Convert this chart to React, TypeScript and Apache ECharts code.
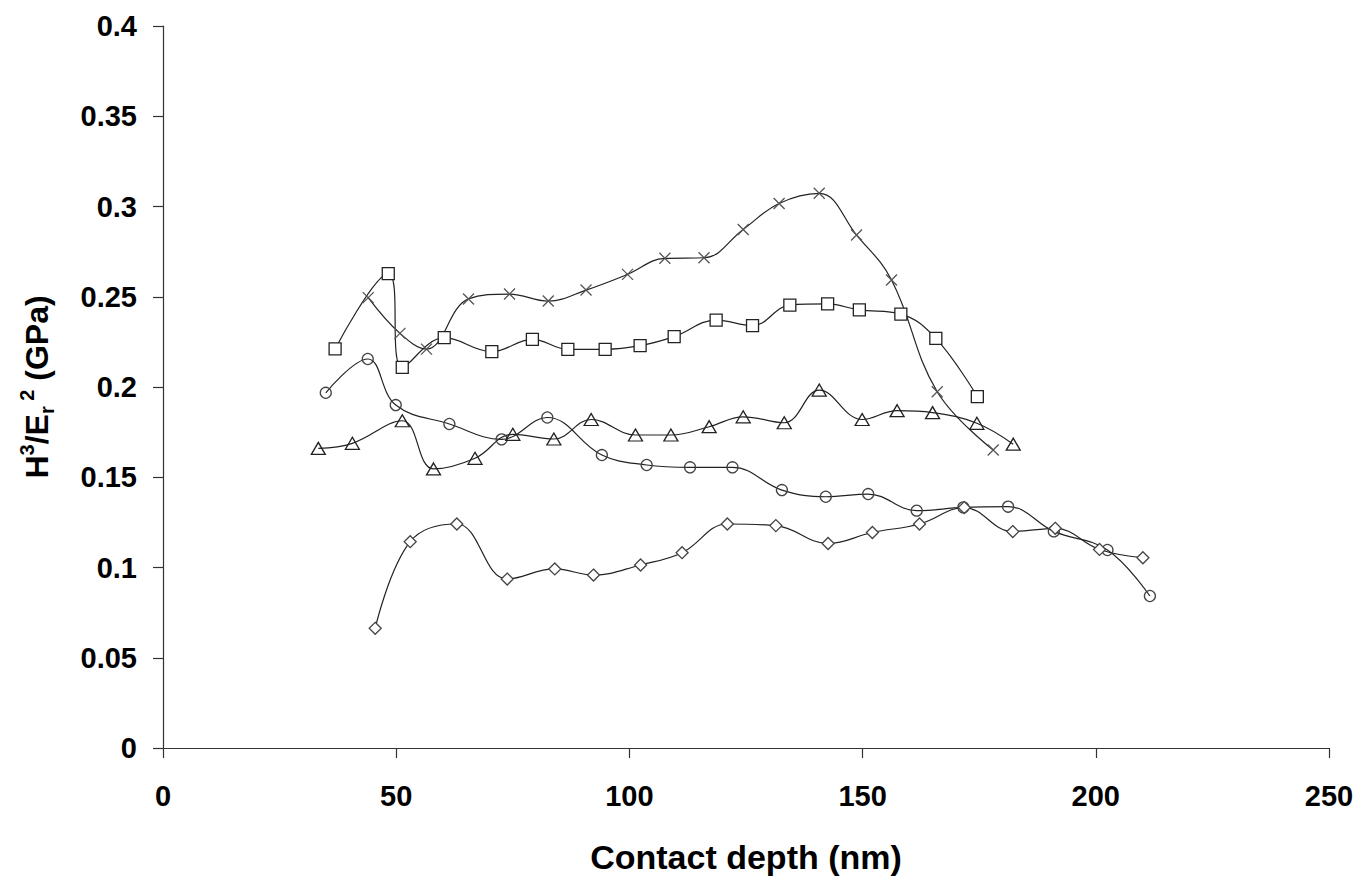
import React, { useEffect, useRef } from "react";
import * as echarts from "echarts";

const xTicks = { min: 0, max: 250, interval: 50 };
const yTicks = { min: 0, max: 0.4, interval: 0.05 };

const crossX = [44.0, 50.8, 56.5, 65.5, 74.3, 82.6, 90.7, 99.6, 107.6, 116.0, 124.4, 132.1, 140.7, 148.7, 156.2, 166.0, 178.0];
const crossY = [0.2495, 0.2297, 0.221, 0.2488, 0.2515, 0.2476, 0.2537, 0.2624, 0.2713, 0.2716, 0.2873, 0.3017, 0.3073, 0.2842, 0.2593, 0.1974, 0.1651];

const squareX = [36.9, 48.3, 51.3, 60.3, 70.5, 79.2, 86.8, 94.8, 102.3, 109.6, 118.6, 126.4, 134.4, 142.5, 149.3, 158.2, 165.7, 174.6];
const squareY = [0.2211, 0.2628, 0.2109, 0.2273, 0.2196, 0.2264, 0.2209, 0.2209, 0.2229, 0.2279, 0.2371, 0.234, 0.2454, 0.246, 0.2427, 0.2404, 0.2269, 0.1947];

const circleX = [34.9, 43.9, 49.9, 61.4, 72.6, 82.4, 94.1, 103.7, 113.0, 122.1, 132.7, 142.1, 151.2, 161.6, 171.6, 181.2, 191.0, 202.5, 211.6];
const circleY = [0.1968, 0.2155, 0.19, 0.1795, 0.171, 0.1831, 0.1623, 0.1568, 0.1555, 0.1555, 0.1429, 0.1392, 0.1407, 0.1315, 0.1333, 0.1337, 0.12, 0.1097, 0.0842];

const triangleX = [33.3, 40.6, 51.3, 58.0, 66.9, 75.0, 83.8, 91.8, 101.3, 108.9, 117.1, 124.4, 133.2, 140.7, 149.9, 157.4, 165.0, 174.5, 182.3];
const triangleY = [0.166, 0.1688, 0.1813, 0.1546, 0.1605, 0.1738, 0.1712, 0.182, 0.1734, 0.1734, 0.178, 0.1835, 0.1802, 0.1983, 0.182, 0.1869, 0.1858, 0.1799, 0.1683];

const diamondX = [45.5, 53.0, 63.0, 73.8, 84.0, 92.3, 102.4, 111.3, 121.0, 131.4, 142.6, 152.1, 162.2, 171.8, 182.2, 191.3, 200.8, 210.1];
const diamondY = [0.0663, 0.1143, 0.1241, 0.0936, 0.0992, 0.0958, 0.1014, 0.1082, 0.1241, 0.1232, 0.1133, 0.1194, 0.1241, 0.1332, 0.1199, 0.1217, 0.11, 0.1054];

const zip = (xs: number[], ys: number[]) => xs.map((x, i) => [x, ys[i]]);

const FONT = "Liberation Sans, Arial, sans-serif";

export default function App() {
  const ref = useRef<HTMLDivElement>(null);
  useEffect(() => {
    if (!ref.current) return;
    const chart = echarts.init(ref.current, undefined, { renderer: "svg" });
    const mk = (
      name: string,
      xs: number[],
      ys: number[],
      symbol: string,
      size: number | number[],
      color: string,
      fill: string
    ) => ({
      name,
      type: "line",
      data: zip(xs, ys),
      smooth: 0.4,
      symbol,
      symbolSize: size,
      showAllSymbol: true,
      lineStyle: { color: "#222", width: 1.2 },
      itemStyle: { color: fill, borderColor: color, borderWidth: 1.3 },
      z: 3,
    });
    chart.setOption({
      animation: false,
      backgroundColor: "#fff",
      grid: { left: 163, right: 34, top: 26, bottom: 133, containLabel: false },
      xAxis: {
        type: "value",
        min: xTicks.min,
        max: xTicks.max,
        interval: xTicks.interval,
        name: "Contact depth (nm)",
        nameLocation: "middle",
        nameGap: 92,
        nameTextStyle: { fontFamily: FONT, fontWeight: "bold", fontSize: 34, color: "#000" },
        axisLine: { show: true, lineStyle: { color: "#333", width: 1.2 } },
        axisTick: { show: true, length: 10, inside: false, lineStyle: { color: "#333", width: 1.2 } },
        axisLabel: { fontFamily: FONT, fontWeight: "bold", fontSize: 29, color: "#000", margin: 33 },
        splitLine: { show: false },
      },
      yAxis: {
        type: "value",
        min: yTicks.min,
        max: yTicks.max,
        interval: yTicks.interval,
        name: "{m|H}{sup|3}{m|/E}{sub|r}{sup| 2}{m| (GPa)}",
        nameLocation: "middle",
        nameRotate: 90,
        nameGap: 106,
        nameTextStyle: {
          fontFamily: FONT,
          fontWeight: "bold",
          fontSize: 32,
          color: "#000",
          rich: {
            m: { fontFamily: FONT, fontWeight: "bold", fontSize: 32, color: "#000", lineHeight: 40, verticalAlign: "middle" },
            sup: { fontFamily: FONT, fontWeight: "bold", fontSize: 20, color: "#000", lineHeight: 40, verticalAlign: "top" },
            sub: { fontFamily: FONT, fontWeight: "bold", fontSize: 20, color: "#000", lineHeight: 40, verticalAlign: "bottom" },
          },
        },
        axisLine: { show: true, lineStyle: { color: "#333", width: 1.2 } },
        axisTick: { show: true, length: 10, inside: false, lineStyle: { color: "#333", width: 1.2 } },
        axisLabel: { fontFamily: FONT, fontWeight: "bold", fontSize: 29, color: "#000", margin: 26 },
        splitLine: { show: false },
      },
      series: [
        mk("x", crossX, crossY, "path://M0,0L10,10M10,0L0,10", 11, "#555", "rgba(0,0,0,0)"),
        mk("square", squareX, squareY, "rect", 12, "#222", "#fff"),
        mk("circle", circleX, circleY, "circle", 11, "#444", "rgba(255,255,255,0)"),
        mk("triangle", triangleX, triangleY, "triangle", [14, 12], "#222", "rgba(255,255,255,0)"),
        mk("diamond", diamondX, diamondY, "diamond", [12, 12], "#444", "#fff"),
      ],
    });
    return () => chart.dispose();
  }, []);
  return (
    <div
      ref={ref}
      style={{ position: "absolute", left: 0, top: 0, width: 1363, height: 881, background: "#fff" }}
    />
  );
}
